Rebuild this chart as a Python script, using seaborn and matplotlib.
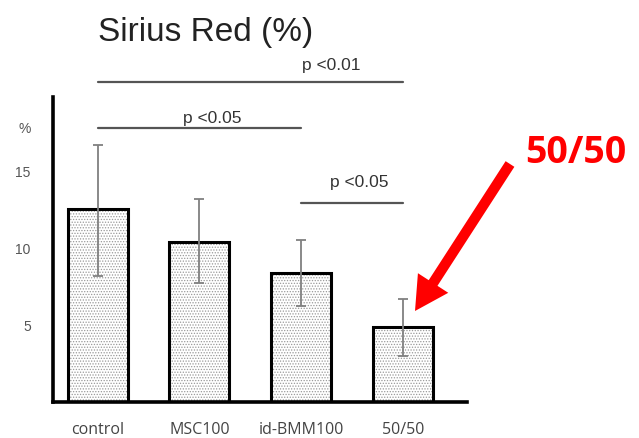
import matplotlib
matplotlib.use("Agg")
import matplotlib.pyplot as plt
import seaborn as sns

# values
groups = ["control", "MSC100", "id-BMM100", "50/50"]
means = [12.5, 10.4, 8.4, 4.9]
err_hi = [16.7, 13.2, 10.5, 6.7]
err_lo = [8.2, 7.7, 6.2, 3.0]

# significance brackets: (from group, to group, line y, label)
brackets = [(0, 3, 20.8, "p <0.01"), (0, 2, 17.8, "p <0.05"), (2, 3, 12.9, "p <0.05")]
label_pos = [(2.3, 21.9), (1.13, 18.5), (2.57, 14.3)]

sns.set_style("white")
plt.rcParams["hatch.color"] = "#999999"
plt.rcParams["hatch.linewidth"] = 0.6

fig = plt.figure(figsize=(6.39, 4.39), dpi=100)
ax = fig.add_axes([53/639, 1 - 403/439, (467 - 53)/639, (403 - 98)/439])

sns.barplot(x=groups, y=means, color="white", edgecolor="#999999", linewidth=0,
            hatch="......", width=0.59, errorbar=None, ax=ax)
sns.barplot(x=groups, y=means, color="black", fill=False, linewidth=2.2,
            width=0.59, errorbar=None, ax=ax)

lo = [m - l for m, l in zip(means, err_lo)]
hi = [h - m for m, h in zip(means, err_hi)]
ax.errorbar(range(len(groups)), means, yerr=[lo, hi], fmt="none", ecolor="#808080",
            elinewidth=1.3, capsize=3.5, capthick=1.3, zorder=5)

ax.set_xlim(-0.44, 3.63)
ax.set_ylim(0, 19.8)
ax.set_yticks([5, 10, 15, 17.9], ["5", "10", "15", "%"])
ax.tick_params(axis="both", length=0)
ax.tick_params(axis="y", pad=16, labelsize=10, labelcolor="#555555")
ax.tick_params(axis="x", pad=14, labelcolor="#444444")
for t in ax.get_xticklabels():
    t.set_fontfamily("Open Sans")
    t.set_fontsize(11.5)
for t in ax.get_yticklabels():
    t.set_fontfamily("Liberation Sans")
ax.set_xlabel("")
ax.set_ylabel("")
sns.despine(ax=ax)
for s in ["left", "bottom"]:
    ax.spines[s].set_linewidth(2.6)
    ax.spines[s].set_color("black")

for (a, b, y, txt), (tx, ty) in zip(brackets, label_pos):
    ax.plot([a, b], [y, y], color="#555555", lw=1.6, clip_on=False)
    ax.text(tx, ty, txt, ha="center", va="center", fontsize=12.5,
            family="Liberation Sans", color="#333333", clip_on=False)

fig.text(206/639, 1 - 32/439, "Sirius Red (%)", ha="center", va="center",
         fontsize=24, family="Liberation Sans", color="#222222")

ax.annotate("", xy=(415, 439 - 312), xytext=(510, 439 - 165),
            xycoords="figure pixels", textcoords="figure pixels",
            arrowprops=dict(facecolor="#ff0000", edgecolor="none", width=7.5,
                            headwidth=26, headlength=24, shrink=0))
fig.text(576/639, 1 - 153/439, "50/50", ha="center", va="center", fontsize=27,
         fontweight="bold", family="Open Sans", color="#ff0000")

fig.savefig("out.png", dpi=100)
